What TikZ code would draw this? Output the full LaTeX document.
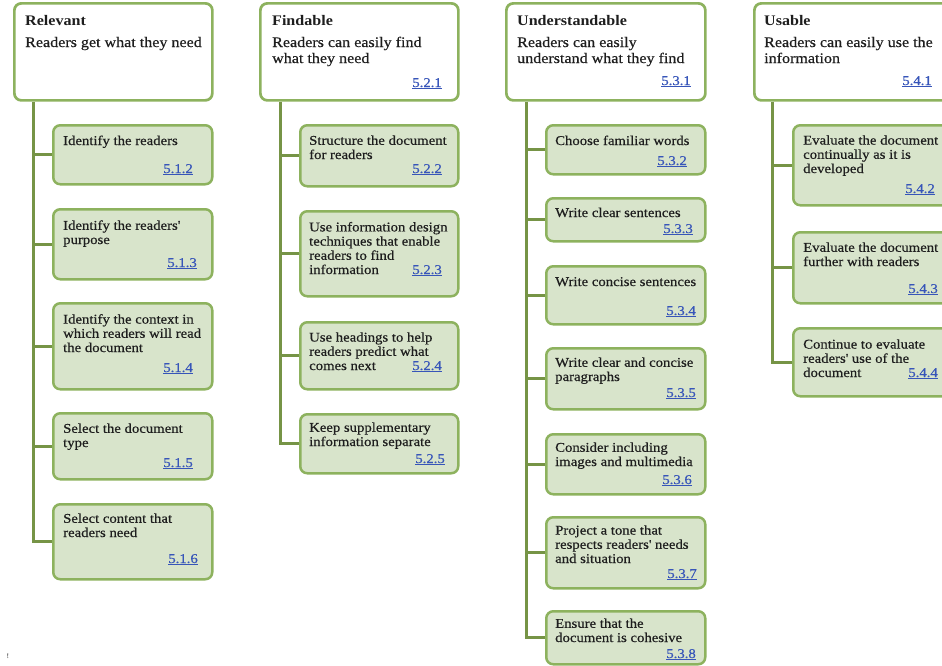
\documentclass[tikz,border=0pt]{standalone}
\usepackage{fontspec}
\setmainfont{Liberation Serif}[FakeStretch=1.1]
\newfontfamily\regfont{Liberation Serif}[FakeStretch=1.1,FakeBold=0.5]
\definecolor{boxgreen}{RGB}{141,178,94}
\definecolor{trunkgreen}{RGB}{118,148,70}
\definecolor{childfill}{RGB}{216,228,203}
\definecolor{textgray}{RGB}{30,30,30}
\definecolor{linkblue}{RGB}{55,85,185}
\newcommand\headfont{\fontsize{14.6}{16}\selectfont}
\newcommand\childfont{\regfont\fontsize{13.4}{14.2}\selectfont}
\newcommand\reflink[1]{\underline{#1}}
\tikzset{
  headbox/.style={draw=boxgreen, line width=2.7pt, rounded corners=7pt, fill=white, inner sep=0pt, anchor=north west},
  childbox/.style={draw=boxgreen, line width=2.5pt, rounded corners=7pt, fill=childfill, inner sep=0pt, anchor=north west},
  conn/.style={draw=trunkgreen, line width=3pt},
  htitle/.style={anchor=base west, inner sep=0pt, font=\headfont\bfseries, text=textgray},
  htext/.style={anchor=base west, inner sep=0pt, align=left, font=\regfont\headfont, text=textgray},
  ctext/.style={anchor=base west, inner sep=0pt, align=left, font=\childfont, text=textgray},
  refnum/.style={anchor=base east, inner sep=0pt, font=\childfont, text=linkblue},
}
\begin{document}
\begin{tikzpicture}[x=1pt,y=-1pt]
\useasboundingbox (0,0) rectangle (942,665);
\clip (0,0) rectangle (942,665);

% multi-line text nodes are placed at the baseline of their LAST line

% ---------- Column 1: Relevant ----------
\node[headbox, minimum width=198, minimum height=97] (h1) at (13,2) {};
\node[htitle] (h1t) at (25,25) {Relevant};
\node[htext] (h1b) at (25,47) {Readers get what they need};

\node[childbox, minimum width=159, minimum height=59] (r1) at (52,124) {};
\node[childbox, minimum width=159, minimum height=70] (r2) at (52,208) {};
\node[childbox, minimum width=159, minimum height=86] (r3) at (52,302) {};
\node[childbox, minimum width=159, minimum height=66] (r4) at (52,412) {};
\node[childbox, minimum width=159, minimum height=75] (r5) at (52,503) {};

\node[ctext] (r1t) at (63,145) {Identify the readers};
\node[refnum] (r1n) at (193,173) {\reflink{5.1.2}};
\node[ctext] (r2t) at (63,244) {Identify the readers\textquotesingle\\purpose};
\node[refnum] (r2n) at (197,267) {\reflink{5.1.3}};
\node[ctext] (r3t) at (63,352) {Identify the context in\\which readers will read\\the document};
\node[refnum] (r3n) at (193,372) {\reflink{5.1.4}};
\node[ctext] (r4t) at (63,447) {Select the document\\type};
\node[refnum] (r4n) at (193,467) {\reflink{5.1.5}};
\node[ctext] (r5t) at (63,537) {Select content that\\readers need};
\node[refnum] (r5n) at (198,563) {\reflink{5.1.6}};

\draw[conn] (h1.south west) ++(20,0) coordinate (t1) |- (r5.west);
\foreach \b in {r1,r2,r3,r4} \draw[conn] (\b.west) -- (\b.west -| t1);

% ---------- Column 2: Findable ----------
\node[headbox, minimum width=198, minimum height=97] (h2) at (259,2) {};
\node[htitle] (h2t) at (272,25) {Findable};
\node[htext] (h2b) at (272,63) {Readers can easily find\\what they need};
\node[refnum] (h2n) at (442,87) {\reflink{5.2.1}};

\node[childbox, minimum width=158, minimum height=61] (f1) at (299,124) {};
\node[childbox, minimum width=158, minimum height=85] (f2) at (299,210) {};
\node[childbox, minimum width=158, minimum height=67] (f3) at (299,321) {};
\node[childbox, minimum width=158, minimum height=59] (f4) at (299,413) {};

\node[ctext] (f1t) at (309,159) {Structure the document\\for readers};
\node[refnum] (f1n) at (442,173) {\reflink{5.2.2}};
\node[ctext] (f2t) at (309,274) {Use information design\\techniques that enable\\readers to find\\information};
\node[refnum] (f2n) at (442,274) {\reflink{5.2.3}};
\node[ctext] (f3t) at (309,370) {Use headings to help\\readers predict what\\comes next};
\node[refnum] (f3n) at (442,370) {\reflink{5.2.4}};
\node[ctext] (f4t) at (309,446) {Keep supplementary\\information separate};
\node[refnum] (f4n) at (445,463) {\reflink{5.2.5}};

\draw[conn] (h2.south west) ++(21,0) coordinate (t2) |- (f4.west);
\foreach \b in {f1,f2,f3} \draw[conn] (\b.west) -- (\b.west -| t2);

% ---------- Column 3: Understandable ----------
\node[headbox, minimum width=199, minimum height=97] (h3) at (505,2) {};
\node[htitle] (h3t) at (517,25) {Understandable};
\node[htext] (h3b) at (517,63) {Readers can easily\\understand what they find};
\node[refnum] (h3n) at (691,85) {\reflink{5.3.1}};

\node[childbox, minimum width=159, minimum height=49] (u1) at (545,124) {};
\node[childbox, minimum width=159, minimum height=43] (u2) at (545,197) {};
\node[childbox, minimum width=159, minimum height=58] (u3) at (545,265) {};
\node[childbox, minimum width=159, minimum height=61] (u4) at (545,347) {};
\node[childbox, minimum width=159, minimum height=60] (u5) at (545,433) {};
\node[childbox, minimum width=159, minimum height=71] (u6) at (545,516) {};
\node[childbox, minimum width=159, minimum height=53] (u7) at (545,610) {};

\node[ctext] (u1t) at (555,145) {Choose familiar words};
\node[refnum] (u1n) at (687,165) {\reflink{5.3.2}};
\node[ctext] (u2t) at (555,217) {Write clear sentences};
\node[refnum] (u2n) at (693,233) {\reflink{5.3.3}};
\node[ctext] (u3t) at (555,286) {Write concise sentences};
\node[refnum] (u3n) at (696,315) {\reflink{5.3.4}};
\node[ctext] (u4t) at (555,381) {Write clear and concise\\paragraphs};
\node[refnum] (u4n) at (696,397) {\reflink{5.3.5}};
\node[ctext] (u5t) at (555,466) {Consider including\\images and multimedia};
\node[refnum] (u5n) at (692,484) {\reflink{5.3.6}};
\node[ctext] (u6t) at (555,563) {Project a tone that\\respects readers\textquotesingle{} needs\\and situation};
\node[refnum] (u6n) at (697,578) {\reflink{5.3.7}};
\node[ctext] (u7t) at (555,642) {Ensure that the\\document is cohesive};
\node[refnum] (u7n) at (696,658) {\reflink{5.3.8}};

\draw[conn] (h3.south west) ++(21,0) coordinate (t3) |- (u7.west);
\foreach \b in {u1,u2,u3,u4,u5,u6} \draw[conn] (\b.west) -- (\b.west -| t3);

% ---------- Column 4: Usable ----------
\node[headbox, minimum width=200, minimum height=97] (h4) at (753,2) {};
\node[htitle] (h4t) at (764,25) {Usable};
\node[htext] (h4b) at (764,63) {Readers can easily use the\\information};
\node[refnum] (h4n) at (932,85) {\reflink{5.4.1}};

\node[childbox, minimum width=161, minimum height=80] (s1) at (792,124) {};
\node[childbox, minimum width=161, minimum height=71] (s2) at (792,231) {};
\node[childbox, minimum width=161, minimum height=68] (s3) at (792,327) {};

\node[ctext] (s1t) at (803,173) {Evaluate the document\\continually as it is\\developed};
\node[refnum] (s1n) at (935,193) {\reflink{5.4.2}};
\node[ctext] (s2t) at (803,266) {Evaluate the document\\further with readers};
\node[refnum] (s2n) at (938,293) {\reflink{5.4.3}};
\node[ctext] (s3t) at (803,377) {Continue to evaluate\\readers\textquotesingle{} use of the\\document};
\node[refnum] (s3n) at (938,377) {\reflink{5.4.4}};

\draw[conn] (h4.south west) ++(19,0) coordinate (t4) |- (s3.west);
\foreach \b in {s1,s2} \draw[conn] (\b.west) -- (\b.west -| t4);

% stray mark at bottom left
\node[inner sep=0pt, font=\fontsize{7}{8}\selectfont, text=textgray] (mark) at (8,656) {!};
\end{tikzpicture}
\end{document}
